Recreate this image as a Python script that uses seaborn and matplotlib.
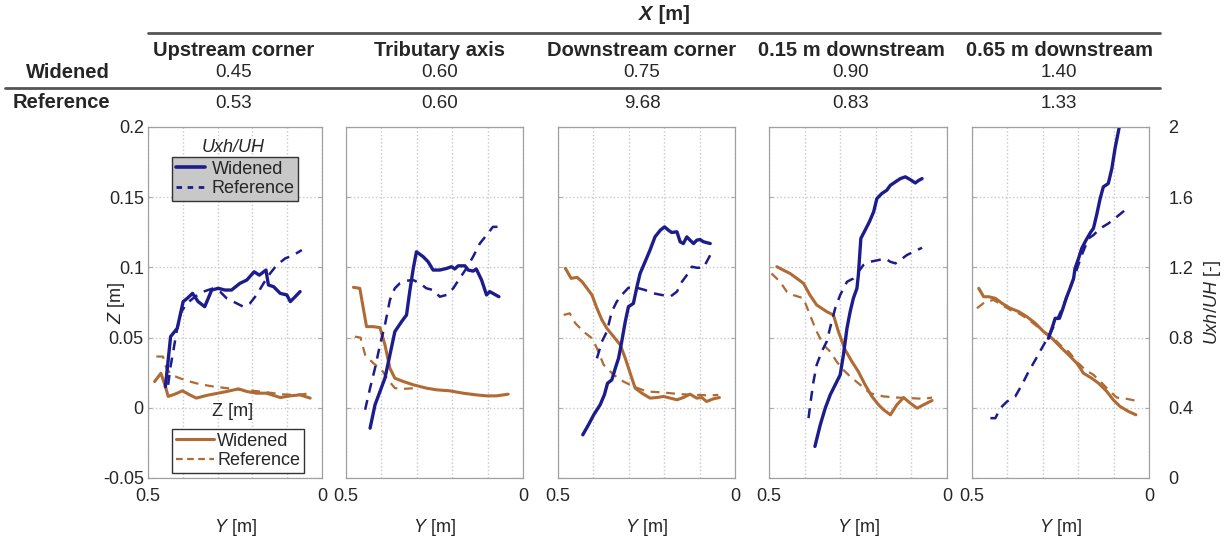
import seaborn as sns
import matplotlib.pyplot as plt
import matplotlib.lines as mlines

sns.set_style("white")
plt.rcParams['font.family'] = ['Liberation Sans', 'DejaVu Sans']
plt.rcParams['mathtext.fontset'] = 'custom'
plt.rcParams['mathtext.rm'] = 'Liberation Sans'
plt.rcParams['mathtext.it'] = 'Liberation Sans:italic'

BLUE = '#1c1c8c'
BROWN = '#b06a34'

sections = ['Upstream corner', 'Tributary axis', 'Downstream corner',
            '0.15 m downstream', '0.65 m downstream']
x_widened = ['0.45', '0.60', '0.75', '0.90', '1.40']
x_reference = ['0.53', '0.60', '9.68', '0.83', '1.33']

# velocity Uxh/UH vs Y, widened (solid) and reference (dashed)
u_wid_y = [
    [0.45, 0.435, 0.416, 0.399, 0.387, 0.372, 0.356, 0.337, 0.317, 0.298, 0.279, 0.26, 0.236, 0.216,
     0.195, 0.18, 0.161, 0.154, 0.139, 0.12, 0.101, 0.091, 0.077, 0.063],
    [0.432, 0.418, 0.404, 0.39, 0.376, 0.362, 0.343, 0.329, 0.32, 0.31, 0.301, 0.282, 0.268, 0.254,
     0.235, 0.216, 0.202, 0.193, 0.183, 0.164, 0.155, 0.141, 0.132, 0.117, 0.103, 0.094, 0.085, 0.068],
    [0.43, 0.414, 0.399, 0.381, 0.369, 0.36, 0.348, 0.338, 0.329, 0.32, 0.31, 0.301, 0.287, 0.277,
     0.268, 0.254, 0.24, 0.226, 0.211, 0.199, 0.188, 0.179, 0.164, 0.155, 0.146, 0.136, 0.127, 0.117,
     0.108, 0.099, 0.089, 0.07],
    [0.371, 0.356, 0.342, 0.328, 0.314, 0.3, 0.291, 0.281, 0.272, 0.263, 0.253, 0.249, 0.242, 0.23,
     0.218, 0.206, 0.197, 0.183, 0.169, 0.159, 0.145, 0.131, 0.117, 0.103, 0.089, 0.08, 0.07],
    [0.284, 0.274, 0.265, 0.253, 0.243, 0.234, 0.223, 0.213, 0.209, 0.199, 0.19, 0.178, 0.164, 0.157,
     0.148, 0.138, 0.129, 0.115, 0.105, 0.096, 0.084, 0.077],
]
u_wid = [
    [0.52, 0.806, 0.853, 1.005, 1.024, 1.052, 1.005, 0.976, 1.071, 1.081, 1.071, 1.071, 1.109, 1.128,
     1.175, 1.156, 1.185, 1.1, 1.09, 1.052, 1.043, 1.005, 1.033, 1.062],
    [0.284, 0.417, 0.493, 0.569, 0.701, 0.834, 0.891, 0.929, 1.062, 1.194, 1.289, 1.261, 1.232, 1.185,
     1.185, 1.194, 1.204, 1.191, 1.209, 1.209, 1.185, 1.179, 1.191, 1.128, 1.043, 1.062, 1.052, 1.033],
    [0.246, 0.303, 0.36, 0.417, 0.474, 0.54, 0.559, 0.626, 0.682, 0.777, 0.891, 0.976, 0.995, 1.09,
     1.166, 1.232, 1.299, 1.374, 1.412, 1.431, 1.412, 1.399, 1.403, 1.346, 1.336, 1.374, 1.355, 1.336,
     1.355, 1.359, 1.346, 1.336],
    [0.18, 0.303, 0.398, 0.474, 0.531, 0.588, 0.701, 0.853, 0.948, 1.024, 1.081, 1.156, 1.365, 1.412,
     1.46, 1.517, 1.592, 1.621, 1.64, 1.668, 1.687, 1.706, 1.716, 1.70, 1.681, 1.695, 1.706],
    [0.796, 0.853, 0.91, 0.91, 0.967, 1.024, 1.081, 1.137, 1.194, 1.251, 1.308, 1.355, 1.403, 1.422,
     1.498, 1.592, 1.659, 1.678, 1.763, 1.877, 2.0, 2.1],
]
u_ref_y = [
    [0.442, 0.436, 0.426, 0.416, 0.404, 0.388, 0.365, 0.341, 0.312, 0.293, 0.274, 0.255, 0.226, 0.207,
     0.188, 0.168, 0.149, 0.13, 0.106, 0.082, 0.058],
    [0.446, 0.432, 0.418, 0.404, 0.39, 0.376, 0.362, 0.348, 0.329, 0.31, 0.291, 0.273, 0.254, 0.235,
     0.216, 0.197, 0.179, 0.16, 0.141, 0.122, 0.103, 0.085, 0.066],
    [0.39, 0.376, 0.362, 0.348, 0.334, 0.32, 0.301, 0.277, 0.254, 0.23, 0.207, 0.183, 0.164, 0.15,
     0.136, 0.122, 0.108, 0.089, 0.08, 0.07],
    [0.389, 0.383, 0.375, 0.366, 0.352, 0.338, 0.324, 0.314, 0.3, 0.281, 0.263, 0.249, 0.235, 0.216,
     0.192, 0.174, 0.159, 0.145, 0.131, 0.113, 0.094, 0.07],
    [0.448, 0.434, 0.42, 0.401, 0.378, 0.359, 0.34, 0.321, 0.303, 0.284, 0.26, 0.237, 0.213, 0.19,
     0.171, 0.157, 0.138, 0.115, 0.091, 0.068],
]
u_ref = [
    [0.531, 0.626, 0.739, 0.853, 0.948, 0.995, 1.033, 1.062, 1.081, 1.062, 1.024, 1.005, 0.976, 0.995,
     1.043, 1.109, 1.166, 1.213, 1.251, 1.27, 1.299],
    [0.389, 0.512, 0.626, 0.758, 0.872, 1.014, 1.081, 1.109, 1.124, 1.128, 1.109, 1.081, 1.071, 1.033,
     1.043, 1.081, 1.137, 1.194, 1.261, 1.336, 1.384, 1.431, 1.431],
    [0.682, 0.777, 0.834, 0.948, 1.005, 1.043, 1.084, 1.084, 1.071, 1.052, 1.043, 1.033, 1.062, 1.118,
     1.156, 1.204, 1.198, 1.198, 1.232, 1.27],
    [0.341, 0.436, 0.55, 0.645, 0.72, 0.777, 0.891, 0.967, 1.043, 1.118, 1.137, 1.175, 1.213, 1.232,
     1.242, 1.251, 1.232, 1.223, 1.242, 1.27, 1.289, 1.312],
    [0.341, 0.341, 0.398, 0.436, 0.464, 0.531, 0.607, 0.673, 0.739, 0.806, 0.9, 1.005, 1.137, 1.27,
     1.365, 1.384, 1.422, 1.45, 1.488, 1.526],
]

# bed elevation Z vs Y
z_wid_y = [
    [0.481, 0.463, 0.45, 0.442, 0.423, 0.401, 0.38, 0.361, 0.332, 0.303, 0.274, 0.24, 0.216, 0.188,
     0.159, 0.12, 0.091, 0.063, 0.034],
    [0.479, 0.461, 0.442, 0.423, 0.404, 0.39, 0.376, 0.362, 0.338, 0.31, 0.273, 0.244, 0.207, 0.169,
     0.132, 0.103, 0.075, 0.042],
    [0.479, 0.463, 0.446, 0.432, 0.418, 0.404, 0.39, 0.376, 0.362, 0.343, 0.324, 0.31, 0.296, 0.282,
     0.263, 0.24, 0.221, 0.202, 0.183, 0.164, 0.146, 0.127, 0.108, 0.094, 0.08, 0.061, 0.044],
    [0.478, 0.46, 0.441, 0.422, 0.403, 0.385, 0.366, 0.338, 0.319, 0.305, 0.286, 0.267, 0.249, 0.23,
     0.211, 0.192, 0.178, 0.159, 0.141, 0.122, 0.103, 0.084, 0.066, 0.042],
    [0.481, 0.467, 0.453, 0.434, 0.415, 0.392, 0.368, 0.345, 0.321, 0.298, 0.274, 0.251, 0.227, 0.204,
     0.185, 0.162, 0.143, 0.119, 0.101, 0.082, 0.058, 0.037],
]
z_wid = [
    [0.0187, 0.0246, 0.0152, 0.0081, 0.0097, 0.0121, 0.0092, 0.0069, 0.0088, 0.0102, 0.0116, 0.0135,
     0.0116, 0.0104, 0.0104, 0.0073, 0.0085, 0.0092, 0.0069],
    [0.0858, 0.0851, 0.0578, 0.0578, 0.0571, 0.0448, 0.0282, 0.0211, 0.0187, 0.0164, 0.014, 0.0128,
     0.0121, 0.0104, 0.0092, 0.0085, 0.0085, 0.0097],
    [0.0993, 0.0922, 0.0929, 0.0898, 0.0851, 0.0803, 0.0709, 0.0626, 0.0566, 0.0507, 0.0448, 0.0353,
     0.0246, 0.014, 0.0104, 0.0069, 0.0073, 0.0081, 0.0069, 0.0057, 0.0073, 0.0097, 0.0069, 0.0073,
     0.0045, 0.0064, 0.0073],
    [0.1005, 0.0981, 0.0957, 0.0922, 0.0886, 0.0803, 0.0732, 0.0685, 0.0661, 0.0543, 0.0412, 0.0329,
     0.0258, 0.0164, 0.0081, 0.0021, -0.0014, -0.005, 0.0021, 0.0073, 0.0033, -0.0003, 0.0021, 0.0052],
    [0.0851, 0.0791, 0.0791, 0.078, 0.0744, 0.0709, 0.0685, 0.0649, 0.0602, 0.0543, 0.0495, 0.0436,
     0.0377, 0.0318, 0.0246, 0.0211, 0.0176, 0.0116, 0.0057, 0.001, -0.0026, -0.005],
]
z_ref_y = [
    [0.476, 0.457, 0.447, 0.433, 0.409, 0.38, 0.351, 0.313, 0.274, 0.236, 0.197, 0.159, 0.12, 0.082,
     0.053, 0.034],
    [0.475, 0.459, 0.446, 0.423, 0.399, 0.381, 0.362, 0.338, 0.305],
    [0.484, 0.467, 0.451, 0.428, 0.404, 0.39, 0.371, 0.343, 0.315, 0.287, 0.249, 0.202, 0.155, 0.108,
     0.07, 0.047],
    [0.493, 0.469, 0.45, 0.432, 0.403, 0.385, 0.366, 0.347, 0.328, 0.31, 0.291, 0.272, 0.244, 0.216,
     0.178, 0.141, 0.103, 0.066, 0.042],
    [0.486, 0.462, 0.439, 0.415, 0.392, 0.368, 0.345, 0.321, 0.298, 0.274, 0.251, 0.227, 0.204, 0.18,
     0.157, 0.133, 0.11, 0.091, 0.063, 0.037],
]
z_ref = [
    [0.0365, 0.0365, 0.0282, 0.0235, 0.0211, 0.0187, 0.0168, 0.0152, 0.014, 0.0128, 0.0121, 0.0111,
     0.0097, 0.0092, 0.0097, 0.0104],
    [0.0507, 0.05, 0.0377, 0.0318, 0.027, 0.0199, 0.014, 0.0135, 0.014],
    [0.0661, 0.0673, 0.0602, 0.0543, 0.0495, 0.0424, 0.0306, 0.0235, 0.0187, 0.0152, 0.0116, 0.0109,
     0.0097, 0.0092, 0.0088, 0.0092],
    [0.0957, 0.0898, 0.0827, 0.0803, 0.078, 0.0661, 0.0543, 0.0448, 0.04, 0.0329, 0.027, 0.0223,
     0.0164, 0.0104, 0.0081, 0.0073, 0.0069, 0.0064, 0.0073],
    [0.0709, 0.0756, 0.0768, 0.0732, 0.0697, 0.0673, 0.0637, 0.059, 0.0543, 0.0507, 0.0448, 0.04,
     0.0329, 0.027, 0.0235, 0.0176, 0.0116, 0.0073, 0.0064, 0.005],
]

W, H = 1228, 538
fig = plt.figure(figsize=(W / 100, H / 100), dpi=100)
panels = [(148, 322), (346, 523), (558, 735), (769, 947), (972, 1149)]
top_px, bot_px = 127, 478

FS = 13
for i, (l, r) in enumerate(panels):
    ax = fig.add_axes([l / W, 1 - bot_px / H, (r - l) / W, (bot_px - top_px) / H])
    ax2 = ax.twinx()
    sns.lineplot(x=z_wid_y[i], y=z_wid[i], ax=ax, color=BROWN, lw=2.2, sort=False, estimator=None)
    sns.lineplot(x=z_ref_y[i], y=z_ref[i], ax=ax, color=BROWN, lw=1.6, ls=(0, (4, 3)),
                 sort=False, estimator=None)
    sns.lineplot(x=u_wid_y[i], y=u_wid[i], ax=ax2, color=BLUE, lw=2.4, sort=False, estimator=None)
    sns.lineplot(x=u_ref_y[i], y=u_ref[i], ax=ax2, color=BLUE, lw=1.8, ls=(0, (4, 3)),
                 sort=False, estimator=None)

    ax.set_xlim(0.5, 0)
    ax.set_ylim(-0.05, 0.2)
    ax2.set_ylim(0, 2)
    ax.set_xticks([0.5, 0.4, 0.3, 0.2, 0.1, 0])
    ax.set_xticklabels(['0.5', '', '', '', '', '0'])
    ax.set_yticks([-0.05, 0, 0.05, 0.1, 0.15, 0.2])
    ax2.set_yticks([0, 0.4, 0.8, 1.2, 1.6, 2])
    ax.grid(True, ls=':', color='#c8c8c8', lw=1)
    for a in (ax, ax2):
        a.tick_params(direction='in', length=3, color='#aaaaaa', labelsize=FS, pad=7)
        for s in a.spines.values():
            s.set_color('#a0a0a0')
    ax.set_xlabel(r'$\it{Y}$ [m]', fontsize=FS, labelpad=9)

    if i == 0:
        ax.set_yticklabels(['-0.05', '0', '0.05', '0.1', '0.15', '0.2'])
        ax.set_ylabel(r'$\it{Z}$ [m]', fontsize=FS)
        ax.yaxis.set_label_coords(-21 / (r - l), 0.5)
        ax.tick_params(axis='y', pad=3)
    else:
        ax.set_yticklabels([])
    if i == len(panels) - 1:
        ax2.set_yticklabels(['0', '0.4', '0.8', '1.2', '1.6', '2'])
        ax2.set_ylabel(r'$\it{Uxh/UH}$ [-]', fontsize=FS, labelpad=6)
        ax2.tick_params(axis='y', pad=14)
    else:
        ax2.set_yticklabels([])

    if i == 0:
        hb = [mlines.Line2D([], [], color=BLUE, lw=2.6),
              mlines.Line2D([], [], color=BLUE, lw=2.0, ls=(0, (2, 2)))]
        leg1 = ax2.legend(hb, ['Widened', 'Reference'], loc='upper left',
                          bbox_to_anchor=(172 / W, 1 - 157 / H), bbox_transform=fig.transFigure,
                          borderaxespad=0, facecolor='#c8c8c8', edgecolor='#333333', framealpha=1,
                          fancybox=False, fontsize=FS, handlelength=1.6, handletextpad=0.4,
                          borderpad=0.2, labelspacing=0.15)
        ax2.add_artist(leg1)
        ho = [mlines.Line2D([], [], color=BROWN, lw=2.2),
              mlines.Line2D([], [], color=BROWN, lw=1.6, ls=(0, (3, 2)))]
        leg2 = ax2.legend(ho, ['Widened', 'Reference'], loc='lower left',
                          bbox_to_anchor=(172 / W, 1 - 473 / H), bbox_transform=fig.transFigure,
                          borderaxespad=0, facecolor='white', edgecolor='#333333', framealpha=1,
                          fancybox=False, fontsize=FS, handlelength=2.1, handletextpad=0.2,
                          borderpad=0.2, labelspacing=0.15)
        fig.text(233 / W, 1 - 147 / H, 'Uxh/UH', style='italic', fontsize=FS, ha='center', va='center')
        fig.text(233 / W, 1 - 412 / H, 'Z [m]', fontsize=FS, ha='center', va='center')

# header table
centers = [234, 440, 642, 851, 1059]
fig.text(652 / W, 1 - 14 / H, 'X', style='italic', weight='bold', fontsize=14.5, ha='right', va='center')
fig.text(653 / W, 1 - 14 / H, ' [m]', weight='bold', fontsize=14.5, ha='left', va='center')
fig.add_artist(mlines.Line2D([148 / W, 1160 / W], [1 - 33 / H, 1 - 33 / H], color='#555555', lw=2))
fig.add_artist(mlines.Line2D([5 / W, 1160 / W], [1 - 88 / H, 1 - 88 / H], color='#555555', lw=2))
for c, s, w, r in zip(centers, sections, x_widened, x_reference):
    fig.text(c / W, 1 - 50 / H, s, weight='bold', fontsize=14.5, ha='center', va='center')
    fig.text(c / W, 1 - 73 / H, w, fontsize=13.5, ha='center', va='center')
    fig.text(c / W, 1 - 103 / H, r, fontsize=13.5, ha='center', va='center')
fig.text(110 / W, 1 - 73 / H, 'Widened', weight='bold', fontsize=14.5, ha='right', va='center')
fig.text(110 / W, 1 - 103 / H, 'Reference', weight='bold', fontsize=14.5, ha='right', va='center')

fig.savefig('out.png', dpi=100)
